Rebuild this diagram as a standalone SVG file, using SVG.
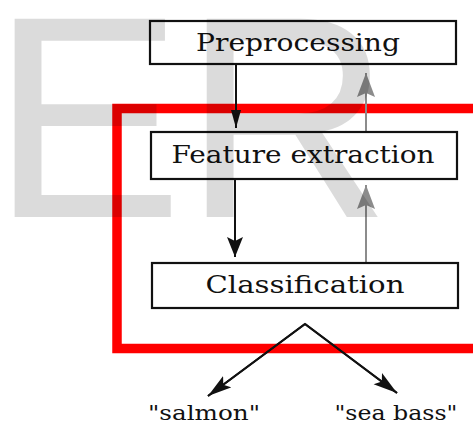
<svg xmlns="http://www.w3.org/2000/svg" width="473" height="421" viewBox="0 0 473 421">
<style>
.box{fill:#fff;stroke:#111;stroke-width:2.2}
.lbl{font-family:"DejaVu Serif","Liberation Serif",serif;font-size:25px;fill:#111;text-anchor:middle}
.out{font-family:"DejaVu Serif","Liberation Serif",serif;font-size:21px;fill:#111;text-anchor:middle}
.blk{stroke:#111;stroke-width:2;fill:none}
.gry{stroke:#8c8c8c;stroke-width:2;fill:none}
</style>
<defs>
<marker id="hb" markerUnits="userSpaceOnUse" markerWidth="20" markerHeight="26" refX="20" refY="8" orient="auto">
<path d="M0,0 L20,8 L0,16 L4,8 Z" fill="#111"/>
</marker>
<marker id="hs" markerUnits="userSpaceOnUse" markerWidth="20" markerHeight="12" refX="18" refY="5" orient="auto">
<path d="M0,0 L18,5 L0,10 Z" fill="#111"/>
</marker>
<marker id="hg" markerUnits="userSpaceOnUse" markerWidth="26" markerHeight="20" refX="24" refY="9" orient="auto">
<path d="M0,0 L24,9 L0,18 L4,9 Z" fill="#8c8c8c"/>
</marker>
<marker id="hf" markerUnits="userSpaceOnUse" markerWidth="26" markerHeight="18" refX="24" refY="7" orient="auto">
<path d="M0,0 L24,7 L0,14 L5,7 Z" fill="#111"/>
</marker>
</defs>
<rect width="473" height="421" fill="#fff"/>
<rect x="117" y="108.5" width="361" height="240" fill="none" stroke="#ff0000" stroke-width="9.5"/>
<g id="connectors">
<line class="blk" x1="236" y1="65" x2="236" y2="128" marker-end="url(#hs)"/>
<line class="blk" x1="235" y1="180" x2="235" y2="257" marker-end="url(#hb)"/>
<line class="gry" x1="366" y1="131" x2="366" y2="73" marker-end="url(#hg)"/>
<line class="gry" x1="366" y1="262" x2="366" y2="185" marker-end="url(#hg)"/>
<polyline class="blk" points="208,396 305,324 397,393" style="fill:none"/>
<line class="blk" x1="305" y1="324" x2="208" y2="396" marker-end="url(#hf)"/>
<line class="blk" x1="305" y1="324" x2="397" y2="393" marker-end="url(#hf)"/>
</g>
<g id="preprocessing">
<rect class="box" x="150" y="21" width="306" height="43"/>
<text class="lbl" x="298" y="51" textLength="204" lengthAdjust="spacingAndGlyphs">Preprocessing</text>
</g>
<g id="feature-extraction">
<rect class="box" x="151" y="132" width="306" height="47"/>
<text class="lbl" x="303" y="163" textLength="263" lengthAdjust="spacingAndGlyphs">Feature extraction</text>
</g>
<g id="classification">
<rect class="box" x="152" y="263" width="306" height="45"/>
<text class="lbl" x="305" y="293" textLength="199" lengthAdjust="spacingAndGlyphs">Classification</text>
</g>
<g id="salmon">
<text class="out" x="204" y="420" textLength="112" lengthAdjust="spacingAndGlyphs">"salmon"</text>
</g>
<g id="sea-bass">
<text class="out" x="396" y="420" textLength="123" lengthAdjust="spacingAndGlyphs">"sea bass"</text>
</g>
<text x="-9" y="217" font-family="'Liberation Sans',Arial,sans-serif" font-size="288" fill="#000" fill-opacity="0.14">ER</text>
</svg>
